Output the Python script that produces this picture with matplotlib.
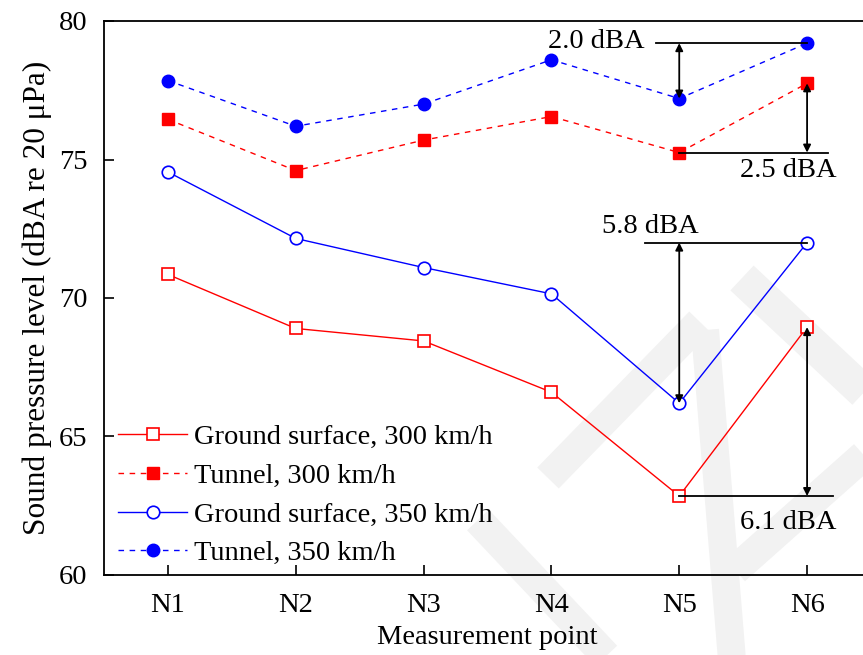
import matplotlib
matplotlib.use("Agg")
import matplotlib.pyplot as plt
from matplotlib.lines import Line2D

points = ["N1", "N2", "N3", "N4", "N5", "N6"]
ground_300 = [70.85, 68.9, 68.45, 66.6, 62.85, 68.95]
tunnel_300 = [76.45, 74.6, 75.7, 76.55, 75.25, 77.75]
ground_350 = [74.55, 72.15, 71.1, 70.15, 66.2, 72.0]
tunnel_350 = [77.85, 76.2, 77.0, 78.6, 77.2, 79.2]
yticks = [60, 65, 70, 75, 80]

plt.rcParams['font.family'] = ['Liberation Serif', 'DejaVu Serif']

FS = 20.5
W, H = 863, 655
fig = plt.figure(figsize=(W/100, H/100), dpi=100)

# faint background watermark strokes (decoration, pixel space)
wm = [((478, 520), (610, 660), 30), ((548, 478), (700, 322), 30),
      ((705, 330), (732, 660), 28), ((742, 278), (870, 398), 34),
      ((735, 570), (870, 450), 30)]
for (x0, y0), (x1, y1), w in wm:
    fig.add_artist(Line2D([x0/W, x1/W], [1-y0/H, 1-y1/H], transform=fig.transFigure,
                          color='#f2f2f2', lw=w*0.72, solid_capstyle='butt', zorder=-5))

ax = fig.add_axes([104/W, 1-575/H, (871-104)/W, (575-21)/H])
ax.patch.set_alpha(0)
x = list(range(1, len(points)+1))

ax.plot(x, ground_300, color='red', lw=1.0, marker='s', ms=8.5, mfc='white', mec='red', mew=1.2,
        label='Ground surface, 300 km/h')
ax.plot(x, tunnel_300, color='red', lw=1.0, ls=(0, (4, 4)), marker='s', ms=8.5, mfc='red', mec='red',
        label='Tunnel, 300 km/h')
ax.plot(x, ground_350, color='blue', lw=1.0, marker='o', ms=9, mfc='white', mec='blue', mew=1.2,
        label='Ground surface, 350 km/h')
ax.plot(x, tunnel_350, color='blue', lw=1.0, ls=(0, (4, 4)), marker='o', ms=9, mfc='blue', mec='blue',
        label='Tunnel, 350 km/h')

ax.set_xlim(0.5, 6.5)
ax.set_ylim(60, 80)
ax.set_yticks(yticks)
ax.set_xticks(x)
ax.set_xticklabels(points)
ax.tick_params(direction='in', length=7, width=1.2, labelsize=FS)
ax.tick_params(axis='x', pad=13)
ax.tick_params(axis='y', pad=12)
for s in ['left', 'bottom', 'top']:
    ax.spines[s].set_linewidth(1.3)
ax.spines['right'].set_visible(False)
ax.set_xlabel('Measurement point', fontsize=FS, labelpad=5)
ax.set_ylabel('Sound pressure level (dBA re 20 μPa)', fontsize=FS + 2, labelpad=5)

def dim(xa, y0, y1):
    ax.annotate('', xy=(xa, y1), xytext=(xa, y0),
                arrowprops=dict(arrowstyle='<|-|>', color='black', lw=1.3,
                                mutation_scale=11, shrinkA=0, shrinkB=0))

# 2.0 dBA
ax.plot([4.82, 6.0], [tunnel_350[5]]*2, color='black', lw=1.3)
dim(5, tunnel_350[5], tunnel_350[4])
ax.text(4.73, tunnel_350[5] + 0.05, '2.0 dBA', ha='right', va='center', fontsize=FS)
# 2.5 dBA
ax.plot([5.0, 6.16], [tunnel_300[4]]*2, color='black', lw=1.3)
dim(6, tunnel_300[5], tunnel_300[4])
ax.text(6.23, tunnel_300[4] - 0.2, '2.5 dBA', ha='right', va='top', fontsize=FS)
# 5.8 dBA
ax.plot([4.73, 6.0], [ground_350[5]]*2, color='black', lw=1.3)
dim(5, ground_350[5], ground_350[4])
ax.text(5.15, ground_350[5] + 0.12, '5.8 dBA', ha='right', va='bottom', fontsize=FS)
# 6.1 dBA
ax.plot([5.0, 6.2], [ground_300[4]]*2, color='black', lw=1.3)
dim(6, ground_300[5], ground_300[4])
ax.text(6.23, ground_300[4] - 0.5, '6.1 dBA', ha='right', va='top', fontsize=FS)

ax.legend(loc='lower left', frameon=False, fontsize=FS, handlelength=2.4, handletextpad=0.25,
          labelspacing=0.45, borderaxespad=0.0, bbox_to_anchor=(0.004, -0.005))

fig.savefig('out.png', dpi=100)
